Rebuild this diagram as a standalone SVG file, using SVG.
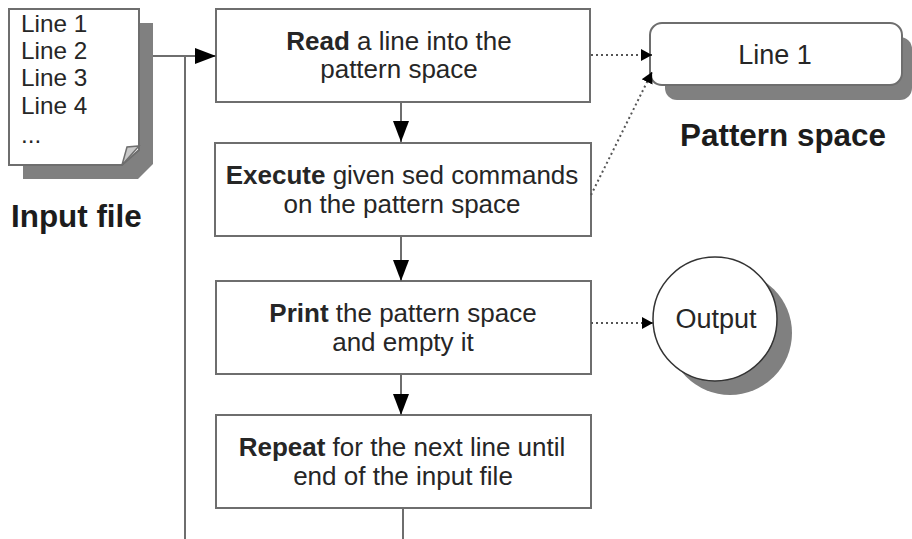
<svg xmlns="http://www.w3.org/2000/svg" width="912" height="539" viewBox="0 0 912 539">
<style>
text{font-family:"Liberation Sans",Arial,sans-serif;fill:#262626;font-size:26px}
.c{text-anchor:middle}
.b{font-weight:bold}
.h{font-weight:bold;font-size:31.4px;fill:#1c1c1c}
.f{font-size:24.3px}
.n{font-size:27px}
.s{fill:#808080;stroke:none}
.box{fill:#fff;stroke:#6e6e6e;stroke-width:2}
.l{fill:none;stroke:#6e6e6e;stroke-width:2}
.d{fill:none;stroke:#555;stroke-width:2;stroke-dasharray:2 3}
</style>
<defs>
<marker id="a" markerUnits="userSpaceOnUse" markerWidth="22" markerHeight="16" refX="21" refY="8" orient="auto"><path d="M0 0L21 8L0 16Z" fill="#000"/></marker>
<marker id="b" markerUnits="userSpaceOnUse" markerWidth="12" markerHeight="14" refX="11" refY="7" orient="auto"><path d="M0 1L11 7L0 13Z" fill="#000"/></marker>
</defs>
<g id="input-file">
<path class="s" d="M23 23H153V164L138 179H23Z"/>
<path class="box" d="M9 9H139V150L122 165H9Z"/>
<path d="M122 165L127 147L139 146Z" fill="#c8c8c8" stroke="#6e6e6e" stroke-width="1.5"/>
<text x="21" y="32" class="f">Line 1</text>
<text x="21" y="59" class="f">Line 2</text>
<text x="21" y="86" class="f">Line 3</text>
<text x="21" y="114" class="f">Line 4</text>
<text x="21" y="143" class="f">...</text>
<text x="11" y="227" class="h">Input file</text>
</g>
<g id="read">
<rect class="box" x="216" y="9" width="374" height="93"/>
<text x="399" y="50" class="c"><tspan class="b">Read</tspan> a line into the</text>
<text x="399" y="78" class="c">pattern space</text>
</g>
<g id="execute">
<rect class="box" x="215" y="143" width="376" height="93"/>
<text x="402" y="184" class="c"><tspan class="b">Execute</tspan> given sed commands</text>
<text x="402" y="213" class="c">on the pattern space</text>
</g>
<g id="print">
<rect class="box" x="216" y="281" width="375" height="93"/>
<text x="403" y="322" class="c"><tspan class="b">Print</tspan> the pattern space</text>
<text x="403" y="351" class="c">and empty it</text>
</g>
<g id="repeat">
<rect class="box" x="216" y="415" width="375" height="93"/>
<text x="402" y="456" class="c"><tspan class="b">Repeat</tspan> for the next line until</text>
<text x="403" y="485" class="c">end of the input file</text>
</g>
<g id="pattern-space">
<rect class="s" x="665" y="37" width="247" height="63" rx="12"/>
<rect class="box" x="650" y="23" width="252" height="62" rx="12"/>
<text x="775" y="64" class="c n">Line 1</text>
<text x="783" y="146" class="h c">Pattern space</text>
</g>
<g id="output">
<circle class="s" cx="730" cy="333" r="62"/>
<circle cx="715" cy="319" r="62" fill="#fff" stroke="#333" stroke-width="1.5"/>
<text x="716" y="328" class="c n">Output</text>
</g>
<g id="connectors">
<path class="l" d="M153 56H216" marker-end="url(#a)"/>
<path class="l" d="M185 56V539"/>
<path class="l" d="M401 103V142" marker-end="url(#a)"/>
<path class="l" d="M401 237V281" marker-end="url(#a)"/>
<path class="l" d="M401 375V415" marker-end="url(#a)"/>
<path class="l" d="M403 509V539"/>
<path class="d" d="M591 55H652" marker-end="url(#b)"/>
<path class="d" d="M591 195L652 72" marker-end="url(#b)"/>
<path class="d" d="M591 323H653" marker-end="url(#b)"/>
</g>
</svg>
